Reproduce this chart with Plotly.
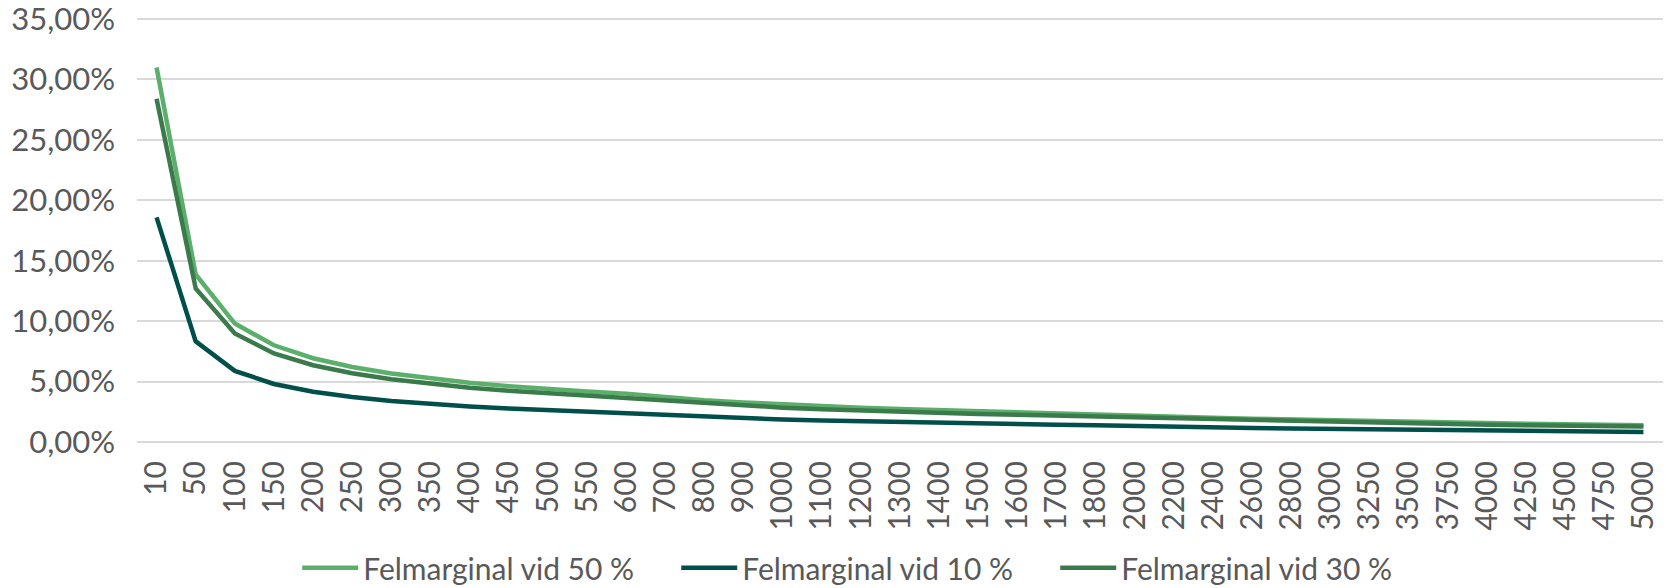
import plotly.graph_objects as go

categories = ["10", "50", "100", "150", "200", "250", "300", "350", "400", "450", "500",
              "550", "600", "700", "800", "900", "1000", "1100", "1200", "1300", "1400",
              "1500", "1600", "1700", "1800", "2000", "2200", "2400", "2600", "2800", "3000",
              "3250", "3500", "3750", "4000", "4250", "4500", "4750", "5000"]

margin_50 = [30.99, 13.86, 9.80, 8.00, 6.93, 6.20, 5.66, 5.24, 4.90, 4.62, 4.38,
             4.18, 4.00, 3.70, 3.46, 3.27, 3.10, 2.95, 2.83, 2.72, 2.62,
             2.53, 2.45, 2.38, 2.31, 2.19, 2.09, 2.00, 1.92, 1.85, 1.79,
             1.72, 1.66, 1.60, 1.55, 1.50, 1.46, 1.42, 1.39]

margin_10 = [18.59, 8.32, 5.88, 4.80, 4.16, 3.72, 3.39, 3.14, 2.94, 2.77, 2.63,
             2.51, 2.40, 2.22, 2.08, 1.96, 1.86, 1.77, 1.70, 1.63, 1.57,
             1.52, 1.47, 1.43, 1.39, 1.31, 1.25, 1.20, 1.15, 1.11, 1.07,
             1.03, 0.99, 0.96, 0.93, 0.90, 0.88, 0.85, 0.83]

margin_30 = [28.40, 12.70, 8.98, 7.33, 6.35, 5.68, 5.19, 4.80, 4.49, 4.23, 4.02,
             3.83, 3.67, 3.39, 3.18, 2.99, 2.84, 2.71, 2.59, 2.49, 2.40,
             2.32, 2.25, 2.18, 2.12, 2.01, 1.92, 1.83, 1.76, 1.70, 1.64,
             1.58, 1.52, 1.47, 1.42, 1.38, 1.34, 1.30, 1.27]

series_names = ["Felmarginal vid 50 %", "Felmarginal vid 10 %", "Felmarginal vid 30 %"]
series_colors = ["#5BAF6A", "#004F4A", "#3B7A4B"]
y_max_pct = 35
y_step_pct = 5

FONT = "Lato"
TEXT_COLOR = "#595959"

fig = go.Figure()
for name, vals, col in zip(series_names, [margin_50, margin_10, margin_30], series_colors):
    fig.add_trace(go.Scatter(
        x=categories, y=[v / 100 for v in vals], name=name, mode="lines",
        line=dict(color=col, width=4.5),
    ))

pad = 0.0017
fig.update_layout(
    width=1666, height=588,
    margin=dict(l=137, r=3, t=17, b=144, autoexpand=False),
    separators=", ",
    paper_bgcolor="white", plot_bgcolor="white",
    font=dict(family=FONT, size=30, color=TEXT_COLOR),
    showlegend=True,
    legend=dict(orientation="h", x=0.105, xanchor="left", y=-0.29, yanchor="middle",
                font=dict(family=FONT, size=30, color=TEXT_COLOR),
                entrywidth=308, entrywidthmode="pixels", itemwidth=56,
                traceorder="normal", bgcolor="rgba(0,0,0,0)"),
    xaxis=dict(type="category", range=[-0.5, len(categories) - 0.5], automargin=False,
               showgrid=False, zeroline=False, showline=False, ticks="",
               tickangle=-90, tickfont=dict(family=FONT, size=30, color=TEXT_COLOR),
               ticklabelstandoff=10),
    yaxis=dict(range=[-pad, y_max_pct / 100 + pad], tickmode="linear", tick0=0,
               dtick=y_step_pct / 100, tickformat=".2%",
               automargin=False, ticklabeloverflow="allow",
               showgrid=True, gridcolor="#D9D9D9", gridwidth=1.5,
               zeroline=False, showline=False, ticks="",
               tickfont=dict(family=FONT, size=31, color=TEXT_COLOR),
               ticklabelstandoff=21),
)

fig.write_html("out.html", config={"displayModeBar": False},
               post_script="document.body.style.margin='0';")
